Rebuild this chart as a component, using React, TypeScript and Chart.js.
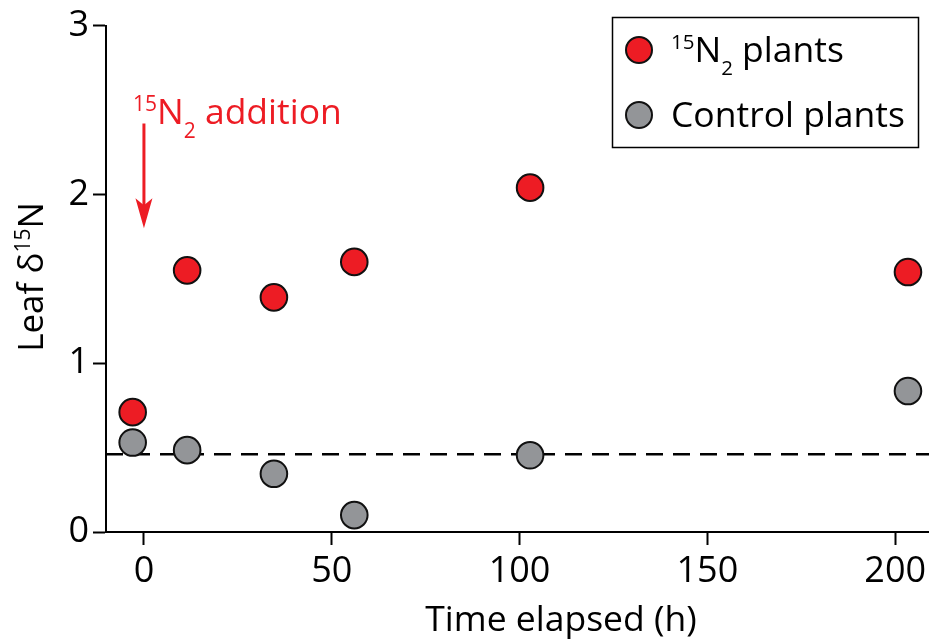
import React, { useEffect, useRef } from "react";
import { Chart, registerables } from "chart.js";

Chart.register(...registerables);

// ---- data ----
const hoursN2 = [-3, 11.5, 34.6, 56, 102.8, 203.4];
const deltaN2 = [0.71, 1.55, 1.39, 1.6, 2.04, 1.54];
const hoursControl = [-3, 11.5, 34.6, 56, 102.8, 203.4];
const deltaControl = [0.53, 0.485, 0.345, 0.1, 0.455, 0.835];
const baselineValue = 0.46;
const xRange = [-10.1, 209];
const yRange = [0, 3];
const xTickValues = [0, 50, 100, 150, 200];
const yTickValues = [0, 1, 2, 3];
const additionTime = 0;
const arrowFrom = 2.42;
const arrowTo = 1.8;

const seriesLabels = ["plants", "Control plants"];

const FONT = "'Open Sans', 'Noto Sans', sans-serif";
const RED = "#ed1c24";
const GRAY = "#939598";
const INK = "#111111";

type Part = { text: string; size: number; dy: number };

function partsWidth(ctx: CanvasRenderingContext2D, parts: Part[]) {
  let w = 0;
  for (const p of parts) {
    ctx.font = `${p.size}px ${FONT}`;
    w += ctx.measureText(p.text).width;
  }
  return w;
}

function drawParts(
  ctx: CanvasRenderingContext2D,
  parts: Part[],
  x: number,
  y: number,
  align: "left" | "center"
) {
  let cx = align === "center" ? x - partsWidth(ctx, parts) / 2 : x;
  ctx.textAlign = "left";
  ctx.textBaseline = "alphabetic";
  for (const p of parts) {
    ctx.font = `${p.size}px ${FONT}`;
    ctx.fillText(p.text, cx, y + p.dy);
    cx += ctx.measureText(p.text).width;
  }
}

const overlayPlugin = {
  id: "overlay",
  afterDraw(chart: any) {
    const ctx: CanvasRenderingContext2D = chart.ctx;
    const xs = chart.scales.x;
    const ys = chart.scales.y;
    ctx.save();

    // Axis titles
    ctx.fillStyle = "#000";
    drawParts(ctx, [{ text: "Time elapsed (h)", size: 35.5, dy: 0 }], 561, 631, "center");
    ctx.save();
    ctx.translate(43, 277);
    ctx.rotate(-Math.PI / 2);
    drawParts(
      ctx,
      [
        { text: "Leaf δ", size: 35, dy: 0 },
        { text: "15", size: 21, dy: -13 },
        { text: "N", size: 35, dy: 0 },
      ],
      0,
      0,
      "center"
    );
    ctx.restore();

    // Annotation arrow
    const ax = xs.getPixelForValue(additionTime);
    const y0 = ys.getPixelForValue(arrowFrom);
    const y1 = ys.getPixelForValue(arrowTo);
    ctx.strokeStyle = RED;
    ctx.fillStyle = RED;
    ctx.lineWidth = 3;
    ctx.beginPath();
    ctx.moveTo(ax, y0);
    ctx.lineTo(ax, y1 - 20);
    ctx.stroke();
    ctx.beginPath();
    ctx.moveTo(ax, y1);
    ctx.lineTo(ax - 8.5, y1 - 30);
    ctx.lineTo(ax, y1 - 23);
    ctx.lineTo(ax + 8.5, y1 - 30);
    ctx.closePath();
    ctx.fill();

    drawParts(
      ctx,
      [
        { text: "15", size: 21, dy: -13 },
        { text: "N", size: 35.5, dy: 0 },
        { text: "2", size: 21, dy: 14 },
        { text: " addition", size: 35.5, dy: 0 },
      ],
      ax - 11,
      y0,
      "left"
    );

    // Legend
    const ds = chart.data.datasets;
    ctx.lineWidth = 1.5;
    ctx.strokeStyle = "#000";
    ctx.strokeRect(612.5, 17.5, 306, 130);
    const rows = [
      { d: ds[0], y: 50, parts: [
        { text: "15", size: 20.5, dy: -13 },
        { text: "N", size: 35.5, dy: 0 },
        { text: "2", size: 20.5, dy: 13 },
        { text: " " + seriesLabels[0], size: 35.5, dy: 0 },
      ] as Part[] },
      { d: ds[1], y: 115, parts: [{ text: seriesLabels[1], size: 35.5, dy: 0 }] as Part[] },
    ];
    for (const r of rows) {
      ctx.beginPath();
      ctx.arc(639, r.y, 13, 0, Math.PI * 2);
      ctx.fillStyle = r.d.backgroundColor;
      ctx.fill();
      ctx.lineWidth = 2;
      ctx.strokeStyle = r.d.borderColor;
      ctx.stroke();
      ctx.fillStyle = "#000";
      drawParts(ctx, r.parts, 671, r.y + 12, "left");
    }
    ctx.restore();
  },
};

export default function App() {
  const ref = useRef<HTMLCanvasElement | null>(null);

  useEffect(() => {
    document.body.style.margin = "0";
    document.body.style.overflow = "hidden";
    if (!ref.current) return;
    const tickFont = { family: FONT, size: 36 };
    const chart = new Chart(ref.current, {
      type: "scatter",
      data: {
        datasets: [
          {
            label: "15N2 plants",
            data: hoursN2.map((x, i) => ({ x, y: deltaN2[i] })),
            backgroundColor: RED,
            borderColor: INK,
            borderWidth: 2,
            pointRadius: 13.3,
            order: 0,
          },
          {
            label: "Control plants",
            data: hoursControl.map((x, i) => ({ x, y: deltaControl[i] })),
            backgroundColor: GRAY,
            borderColor: INK,
            borderWidth: 2,
            pointRadius: 13.3,
            order: 1,
          },
          {
            label: "baseline",
            data: [
              { x: xRange[0], y: baselineValue },
              { x: xRange[1], y: baselineValue },
            ],
            showLine: true,
            borderColor: "#000",
            borderWidth: 2.5,
            borderDash: [17, 10],
            pointRadius: 0,
            order: 5,
          } as any,
        ],
      },
      options: {
        animation: false,
        responsive: true,
        maintainAspectRatio: false,
        events: [],
        layout: { autoPadding: false, padding: { top: 25, left: 0, right: 0, bottom: 0 } },
        plugins: {
          legend: { display: false },
          tooltip: { enabled: false },
          title: { display: false },
        },
        scales: {
          x: {
            type: "linear",
            min: xRange[0],
            max: xRange[1],
            afterFit: (s: any) => {
              s.height = 108;
              s.paddingLeft = 0;
              s.paddingRight = 0;
            },
            afterBuildTicks: (s: any) => {
              s.ticks = xTickValues.map((v) => ({ value: v }));
            },
            grid: {
              display: true,
              drawOnChartArea: false,
              drawTicks: true,
              tickLength: 13,
              tickWidth: 2,
              tickColor: "#000",
            },
            border: { display: true, color: "#000", width: 2 },
            ticks: {
              font: tickFont,
              color: "#000",
              padding: 5,
              maxRotation: 0,
              autoSkip: false,
            },
          },
          y: {
            type: "linear",
            min: yRange[0],
            max: yRange[1],
            afterFit: (s: any) => {
              s.width = 106;
            },
            afterBuildTicks: (s: any) => {
              s.ticks = yTickValues.map((v) => ({ value: v }));
            },
            grid: {
              display: true,
              drawOnChartArea: false,
              drawTicks: true,
              tickLength: 13,
              tickWidth: 2,
              tickColor: "#000",
            },
            border: { display: true, color: "#000", width: 2 },
            ticks: {
              font: tickFont,
              color: "#000",
              padding: 4,
              autoSkip: false,
            },
          },
        },
      },
      plugins: [overlayPlugin],
    } as any);
    return () => chart.destroy();
  }, []);

  return (
    <div style={{ position: "relative", width: 929, height: 640 }}>
      <canvas ref={ref} />
    </div>
  );
}
